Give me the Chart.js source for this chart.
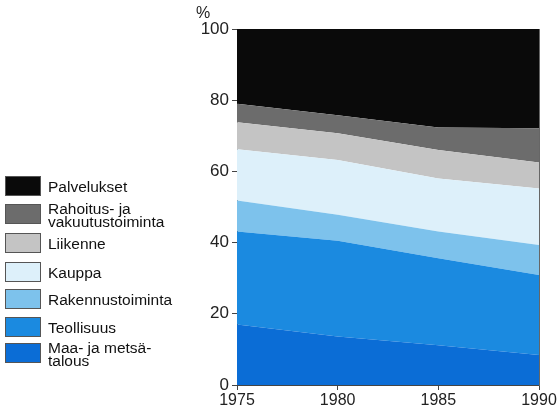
<!DOCTYPE html>
<html>
<head>
<meta charset="utf-8">
<script src="https://cdn.jsdelivr.net/npm/chart.js@4/dist/chart.umd.min.js"></script>
<style>
  body { margin: 0; background: #fff; }
  #wrap { position: relative; width: 559px; height: 415px; font-family: "Liberation Sans", Arial, sans-serif; }
  #pct { position: absolute; left: 196px; top: 4px; font-size: 16px; color: #222; }
  #legend { position: absolute; left: 5px; top: 0; }
  .item { position: absolute; left: 0; width: 200px; }
  .box { position: absolute; left: 0; width: 36px; height: 20px; box-sizing: border-box; border: 1px solid #555; }
  .lbl { position: absolute; left: 43px; font-size: 15.5px; line-height: 13px; color: #111; white-space: nowrap; }
</style>
</head>
<body>
<div id="wrap">
  <canvas id="c" width="559" height="415"></canvas>
  <div id="pct">%</div>
  <div id="legend"></div>
</div>
<script>
var years = ['1975', '1980', '1985', '1990'];
var yTicks = [0, 20, 40, 60, 80, 100];

// shares in percent, bottom layer first
var maa = [17.0, 13.6, 11.2, 8.4];
var teollisuus = [26.1, 26.9, 24.4, 22.5];
var rakennus = [8.7, 7.3, 7.5, 8.4];
var kauppa = [14.4, 15.4, 14.9, 15.9];
var liikenne = [7.6, 7.5, 8.0, 7.3];
var rahoitus = [5.2, 5.1, 6.3, 9.6];
var palvelukset = [21.0, 24.2, 27.7, 27.9];

var series = [
  { label: ['Maa- ja metsä-', 'talous'], data: maa, color: '#0b6dd6', top: 343 },
  { label: ['Teollisuus'], data: teollisuus, color: '#1b8ae0', top: 317 },
  { label: ['Rakennustoiminta'], data: rakennus, color: '#7dc2ec', top: 289 },
  { label: ['Kauppa'], data: kauppa, color: '#ddf0fa', top: 262 },
  { label: ['Liikenne'], data: liikenne, color: '#c4c4c4', top: 233 },
  { label: ['Rahoitus- ja', 'vakuutustoiminta'], data: rahoitus, color: '#6c6c6c', top: 204 },
  { label: ['Palvelukset'], data: palvelukset, color: '#0a0a0a', top: 176 }
];

// legend
var leg = document.getElementById('legend');
series.forEach(function (s) {
  var it = document.createElement('div');
  it.className = 'item';
  it.style.top = s.top + 'px';
  var b = document.createElement('div');
  b.className = 'box';
  b.style.background = s.color;
  it.appendChild(b);
  var t = document.createElement('div');
  t.className = 'lbl';
  t.style.top = (s.label.length > 1 ? -2 : 4) + 'px';
  t.innerHTML = s.label.join('<br>');
  it.appendChild(t);
  leg.appendChild(it);
});

var datasets = series.map(function (s, i) {
  return {
    label: s.label.join(' '),
    data: s.data,
    backgroundColor: s.color,
    borderColor: s.color,
    borderWidth: 0,
    pointRadius: 0,
    tension: 0,
    fill: i === 0 ? 'origin' : '-1'
  };
});

new Chart(document.getElementById('c'), {
  type: 'line',
  data: { labels: years, datasets: datasets },
  options: {
    responsive: false,
    animation: false,
    layout: { padding: { left: 178, right: 20, top: 29, bottom: 5 } },
    plugins: { legend: { display: false }, tooltip: { enabled: false } },
    scales: {
      x: {
        offset: false,
        grid: { drawOnChartArea: false, tickLength: 5, color: '#444' },
        border: { color: '#444' },
        ticks: { color: '#222', font: { family: 'Liberation Sans', size: 16 }, padding: 1, maxRotation: 0 },
        afterFit: function (sc) { sc.height = 25; }
      },
      y: {
        stacked: true,
        min: 0,
        max: 100,
        afterBuildTicks: function (sc) { sc.ticks = yTicks.map(function (v) { return { value: v }; }); },
        grid: { drawOnChartArea: false, tickLength: 5, color: '#444' },
        border: { color: '#444' },
        ticks: { color: '#222', font: { family: 'Liberation Sans', size: 17 }, padding: 3 },
        afterFit: function (sc) { sc.width = 59; }
      },
      y2: {
        position: 'right',
        min: 0,
        max: 100,
        grid: { display: false },
        border: { color: '#666' },
        ticks: { display: false },
        afterFit: function (sc) { sc.width = 0; }
      }
    }
  }
});
</script>
</body>
</html>
